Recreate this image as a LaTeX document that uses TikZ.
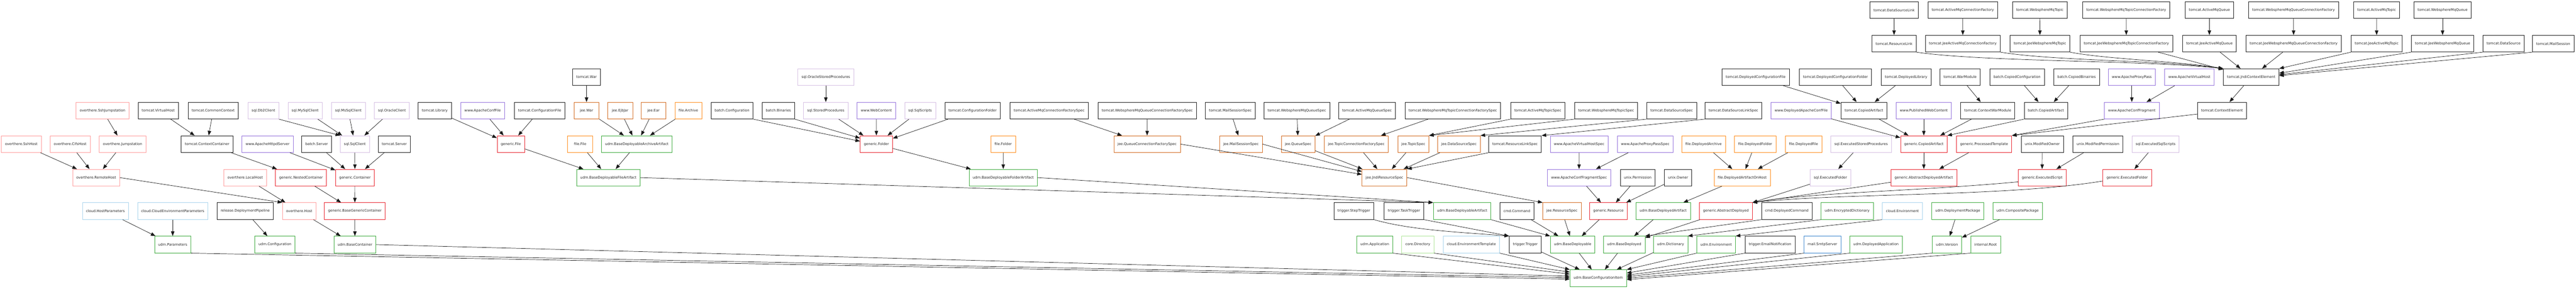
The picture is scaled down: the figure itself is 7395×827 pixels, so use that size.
\documentclass[tikz,border=0pt]{standalone}
\usepackage{fontspec}
\setmainfont{DejaVu Sans}
\usetikzlibrary{arrows.meta}
\definecolor{pkgblack}{HTML}{1A1A1A}
\definecolor{pkgover}{HTML}{FF9C9C}
\definecolor{pkggen}{HTML}{E8202A}
\definecolor{pkgudm}{HTML}{3DAA3D}
\definecolor{pkgcloud}{HTML}{A8D4EC}
\definecolor{pkgsql}{HTML}{D5BFE3}
\definecolor{pkgwww}{HTML}{9370DB}
\definecolor{pkgfile}{HTML}{FF8C1A}
\definecolor{pkgjee}{HTML}{D2691E}
\definecolor{pkgcore}{HTML}{B0E69A}
\definecolor{pkgmail}{HTML}{3A84CC}

\begin{document}
\begin{tikzpicture}[x=0.75pt, y=-0.75pt,
    cls/.style={draw, rectangle, line width=0.8pt, minimum height=36pt, minimum width=54pt,
                inner xsep=7.92pt, inner ysep=0pt, fill=white, text=black!85,
                font=\fontsize{7.55}{9}\selectfont},
    dep/.style={-{Triangle[length=10pt,width=7.5pt]}, line width=0.8pt, black!90}]
    \useasboundingbox (0,0) rectangle (7395,827);

    % Row 0
    \foreach \n/\x/\c/\t in {tcDataSourceLink/5437.3/pkgblack/tomcat.DataSourceLink,
        tcAmqCF/5634.5/pkgblack/tomcat.ActiveMqConnectionFactory,
        tcWmqTopic/5855.8/pkgblack/tomcat.WebsphereMqTopic,
        tcWmqTCF/6103.8/pkgblack/tomcat.WebsphereMqTopicConnectionFactory,
        tcAmqQueue/6342.6/pkgblack/tomcat.ActiveMqQueue,
        tcWmqQCF/6584/pkgblack/tomcat.WebsphereMqQueueConnectionFactory,
        tcAmqTopic/6822.5/pkgblack/tomcat.ActiveMqTopic,
        tcWmqQueue/7011.9/pkgblack/tomcat.WebsphereMqQueue}
        \node[cls, draw=\c] (\n) at (\x,29) {\t};

    % Row 1
    \foreach \n/\x/\c/\t in {tcResourceLink/5437.3/pkgblack/tomcat.ResourceLink,
        tcJeeAmqCF/5634.7/pkgblack/tomcat.JeeActiveMqConnectionFactory,
        tcJeeWmqTopic/5856/pkgblack/tomcat.JeeWebsphereMqTopic,
        tcJeeWmqTCF/6104/pkgblack/tomcat.JeeWebsphereMqTopicConnectionFactory,
        tcJeeAmqQueue/6342.4/pkgblack/tomcat.JeeActiveMqQueue,
        tcJeeWmqQCF/6584.3/pkgblack/tomcat.JeeWebsphereMqQueueConnectionFactory,
        tcJeeAmqTopic/6822.7/pkgblack/tomcat.JeeActiveMqTopic,
        tcJeeWmqQueue/7011.9/pkgblack/tomcat.JeeWebsphereMqQueue,
        tcDataSource/7186.8/pkgblack/tomcat.DataSource,
        tcMailSession/7329.5/pkgblack/tomcat.MailSession}
        \node[cls, draw=\c] (\n) at (\x,125) {\t};

    % Row 2
    \foreach \n/\x/\c/\t in {tcWar/1683.8/pkgblack/tomcat.War,
        sqlOracleSP/2370.7/pkgsql/sql.OracleStoredProcedures,
        tcDeplConfFile/5039.9/pkgblack/tomcat.DeployedConfigurationFile,
        tcDeplConfFolder/5269.1/pkgblack/tomcat.DeployedConfigurationFolder,
        tcDeplLibrary/5471.9/pkgblack/tomcat.DeployedLibrary,
        tcWarModule/5626.8/pkgblack/tomcat.WarModule,
        btCopiedConf/5790.5/pkgblack/batch.CopiedConfiguration,
        btCopiedBin/5961.3/pkgblack/batch.CopiedBinairies,
        wwwProxyPass/6119.8/pkgwww/www.ApacheProxyPass,
        wwwVirtualHost/6285/pkgwww/www.ApacheVirtualHost,
        tcJndiCtx/6462.6/pkgblack/tomcat.JndiContextElement}
        \node[cls, draw=\c] (\n) at (\x,221) {\t};

    % Row 3
    \foreach \n/\x/\c/\t in {ohSshJump/294.4/pkgover/overthere.SshJumpstation,
        tcVirtualHost/454.3/pkgblack/tomcat.VirtualHost,
        tcCommonCtx/612/pkgblack/tomcat.CommonContext,
        sqlDb2/756.1/pkgsql/sql.Db2Client,
        sqlMySql/875.9/pkgsql/sql.MySqlClient,
        sqlMsSql/999.9/pkgsql/sql.MsSqlClient,
        sqlOracle/1125.2/pkgsql/sql.OracleClient,
        tcLibrary/1248/pkgblack/tomcat.Library,
        wwwConfFile/1385.5/pkgwww/www.ApacheConfFile,
        tcConfFile/1549.2/pkgblack/tomcat.ConfigurationFile,
        jeeWar/1683.8/pkgjee/jee.War,
        jeeEjbJar/1780.1/pkgjee/jee.EjbJar,
        jeeEar/1875.9/pkgjee/jee.Ear,
        flArchive/1976.1/pkgfile/file.Archive,
        btConf/2101.4/pkgblack/batch.Configuration,
        btBin/2234.5/pkgblack/batch.Binaries,
        sqlSP/2370.7/pkgsql/sql.StoredProcedures,
        wwwWebContent/2515.7/pkgwww/www.WebContent,
        sqlScripts/2641.3/pkgsql/sql.SqlScripts,
        tcConfFolder/2791.9/pkgblack/tomcat.ConfigurationFolder,
        tcAmqCFSpec/3011.7/pkgblack/tomcat.ActiveMqConnectionFactorySpec,
        tcWmqQCFSpec/3293.4/pkgblack/tomcat.WebsphereMqQueueConnectionFactorySpec,
        tcMailSpec/3532/pkgblack/tomcat.MailSessionSpec,
        tcWmqQueueSpec/3722.7/pkgblack/tomcat.WebsphereMqQueueSpec,
        tcAmqQueueSpec/3924.1/pkgblack/tomcat.ActiveMqQueueSpec,
        tcWmqTCFSpec/4170.6/pkgblack/tomcat.WebsphereMqTopicConnectionFactorySpec,
        tcAmqTopicSpec/4414.5/pkgblack/tomcat.ActiveMqTopicSpec,
        tcWmqTopicSpec/4610.8/pkgblack/tomcat.WebsphereMqTopicSpec,
        tcDataSourceSpec/4798.7/pkgblack/tomcat.DataSourceSpec,
        tcDSLinkSpec/4976.1/pkgblack/tomcat.DataSourceLinkSpec,
        wwwDeplConfFile/5170.6/pkgwww/www.DeployedApacheConfFile,
        tcCopied/5350.7/pkgblack/tomcat.CopiedArtifact,
        wwwPublished/5522.7/pkgwww/www.PublishedWebContent,
        tcCtxWarModule/5706.3/pkgblack/tomcat.ContextWarModule,
        btCopied/5873.1/pkgblack/batch.CopiedArtifact,
        wwwConfFragment/6119.8/pkgwww/www.ApacheConfFragment,
        tcCtxElement/6378.8/pkgblack/tomcat.ContextElement}
        \node[cls, draw=\c] (\n) at (\x,317) {\t};

    % Row 4
    \foreach \n/\x/\c/\t in {ohSshHost/61.1/pkgover/overthere.SshHost,
        ohCifsHost/201.3/pkgover/overthere.CifsHost,
        ohJump/351.9/pkgover/overthere.Jumpstation,
        tcCtxContainer/594.6/pkgblack/tomcat.ContextContainer,
        wwwHttpd/768/pkgwww/www.ApacheHttpdServer,
        btServer/909.1/pkgblack/batch.Server,
        sqlClient/1018.7/pkgsql/sql.SqlClient,
        tcServer/1131.9/pkgblack/tomcat.Server,
        gnFile/1466.5/pkggen/generic.File,
        flFile/1665.4/pkgfile/file.File,
        udmBDArchive/1828/pkgudm/udm.BaseDeployableArchiveArtifact,
        gnFolder/2515.9/pkggen/generic.Folder,
        flFolder/2879.9/pkgfile/file.Folder,
        jeeQCFSpec/3293/pkgjee/jee.QueueConnectionFactorySpec,
        jeeMailSpec/3562.5/pkgjee/jee.MailSessionSpec,
        jeeQueueSpec/3726.6/pkgjee/jee.QueueSpec,
        jeeTCFSpec/3893.5/pkgjee/jee.TopicConnectionFactorySpec,
        jeeTopicSpec/4057.2/pkgjee/jee.TopicSpec,
        jeeDSSpec/4188.1/pkgjee/jee.DataSourceSpec,
        tcRLSpec/4349.3/pkgblack/tomcat.ResourceLinkSpec,
        wwwVHSpec/4533.1/pkgwww/www.ApacheVirtualHostSpec,
        wwwPPSpec/4722.9/pkgwww/www.ApacheProxyPassSpec,
        flDeplArchive/4890.5/pkgfile/file.DeployedArchive,
        flDeplFolder/5038.6/pkgfile/file.DeployedFolder,
        flDeplFile/5177.4/pkgfile/file.DeployedFile,
        sqlExecSP/5342.6/pkgsql/sql.ExecutedStoredProcedures,
        gnCopied/5522.7/pkggen/generic.CopiedArtifact,
        gnTemplate/5695.8/pkggen/generic.ProcessedTemplate,
        uxModOwner/5862.7/pkgblack/unix.ModifiedOwner,
        uxModPerm/6022.6/pkgblack/unix.ModifiedPermission,
        sqlExecScripts/6188/pkgsql/sql.ExecutedSqlScripts}
        \node[cls, draw=\c] (\n) at (\x,413) {\t};

    % Row 5
    \foreach \n/\x/\c/\t in {ohRemoteHost/276/pkgover/overthere.RemoteHost,
        ohLocalHost/703.9/pkgover/overthere.LocalHost,
        gnNested/864/pkggen/generic.NestedContainer,
        gnContainer/1018.9/pkggen/generic.Container,
        udmBDFile/1746.5/pkgudm/udm.BaseDeployableFileArtifact,
        udmBDFolder/2880.1/pkgudm/udm.BaseDeployableFolderArtifact,
        jeeJndiSpec/3974.5/pkgjee/jee.JndiResourceSpec,
        wwwFragSpec/4533/pkgwww/www.ApacheConfFragmentSpec,
        uxPermission/4701.4/pkgblack/unix.Permission,
        uxOwner/4817.4/pkgblack/unix.Owner,
        flOnHost/5001.2/pkgfile/file.DeployedArtifactOnHost,
        sqlExecFolder/5254.7/pkgsql/sql.ExecutedFolder,
        gnAbsDeplArt/5522.7/pkggen/generic.AbstractDeployedArtifact,
        gnExecScript/5862.3/pkggen/generic.ExecutedScript,
        gnExecFolder/6106.6/pkggen/generic.ExecutedFolder}
        \node[cls, draw=\c] (\n) at (\x,509) {\t};

    % Row 6
    \foreach \n/\x/\c/\t in {clHostParams/302.5/pkgcloud/cloud.HostParameters,
        clEnvParams/495.8/pkgcloud/cloud.CloudEnvironmentParameters,
        relPipeline/703.9/pkgblack/release.DeploymentPipeline,
        ohHost/858.9/pkgover/overthere.Host,
        gnBaseContainer/1018.7/pkggen/generic.BaseGenericContainer,
        trStep/3886.6/pkgblack/trigger.StepTrigger,
        trTask/4030.7/pkgblack/trigger.TaskTrigger,
        udmBDArtifact/4197.3/pkgudm/udm.BaseDeployableArtifact,
        cmdCommand/4354.4/pkgblack/cmd.Command,
        jeeResSpec/4483.9/pkgjee/jee.ResourceSpec,
        gnResource/4617.2/pkggen/generic.Resource,
        udmBDdArtifact/4774.5/pkgudm/udm.BaseDeployedArtifact,
        gnAbsDeployed/4954.4/pkggen/generic.AbstractDeployed,
        cmdDeployed/5129.3/pkgblack/cmd.DeployedCommand,
        udmEncDict/5302.7/pkgudm/udm.EncryptedDictionary,
        clEnvironment/5461.2/pkgcloud/cloud.Environment,
        udmDeplPkg/5620.1/pkgudm/udm.DeploymentPackage,
        udmCompPkg/5791.9/pkgudm/udm.CompositePackage}
        \node[cls, draw=\c] (\n) at (\x,605) {\t};

    % Row 7
    \foreach \n/\x/\c/\t in {udmParams/495.8/pkgudm/udm.Parameters,
        udmConfig/789.3/pkgudm/udm.Configuration,
        udmBaseContainer/1018.9/pkgudm/udm.BaseContainer,
        udmApplication/3946.5/pkgudm/udm.Application,
        coreDirectory/4070.2/pkgcore/core.Directory,
        clEnvTemplate/4224/pkgcloud/cloud.EnvironmentTemplate,
        trTrigger/4378.7/pkgblack/trigger.Trigger,
        udmBaseDeployable/4514.6/pkgudm/udm.BaseDeployable,
        udmBaseDeployed/4662.6/pkgudm/udm.BaseDeployed,
        udmDictionary/4795.7/pkgudm/udm.Dictionary,
        udmEnvironment/4926.5/pkgudm/udm.Environment,
        trEmail/5081.1/pkgblack/trigger.EmailNotification,
        mailSmtp/5231.9/pkgmail/mail.SmtpServer,
        udmDeplApp/5385.5/pkgudm/udm.DeployedApplication,
        udmVersion/5589.4/pkgudm/udm.Version,
        intRoot/5700/pkgudm/internal.Root}
        \node[cls, draw=\c] (\n) at (\x,701) {\t};

    % Root of everything
    \node[cls, draw=pkgudm] (udmBCI) at (4588.1,797) {udm.BaseConfigurationItem};

    % Plain inheritance edges
    \foreach \a/\b in {ohSshJump/ohJump, ohSshHost/ohRemoteHost, ohCifsHost/ohRemoteHost,
        ohJump/ohRemoteHost, ohLocalHost/ohHost, ohHost/udmBaseContainer,
        tcVirtualHost/tcCtxContainer, tcCommonCtx/tcCtxContainer, tcCtxContainer/gnNested,
        sqlMySql/sqlClient, sqlMsSql/sqlClient, sqlOracle/sqlClient,
        wwwHttpd/gnContainer, btServer/gnContainer, sqlClient/gnContainer, tcServer/gnContainer,
        gnNested/gnBaseContainer, gnContainer/gnBaseContainer, gnBaseContainer/udmBaseContainer,
        relPipeline/udmConfig, clHostParams/udmParams, clEnvParams/udmParams,
        tcLibrary/gnFile, wwwConfFile/gnFile, tcConfFile/gnFile, tcWar/jeeWar,
        jeeWar/udmBDArchive, jeeEjbJar/udmBDArchive, jeeEar/udmBDArchive, flArchive/udmBDArchive,
        gnFile/udmBDFile, flFile/udmBDFile, udmBDArchive/udmBDFile,
        sqlOracleSP/sqlSP, sqlSP/gnFolder, wwwWebContent/gnFolder, sqlScripts/gnFolder,
        tcConfFolder/gnFolder, gnFolder/udmBDFolder, flFolder/udmBDFolder,
        tcAmqCFSpec/jeeQCFSpec, tcWmqQCFSpec/jeeQCFSpec, tcMailSpec/jeeMailSpec,
        tcWmqQueueSpec/jeeQueueSpec, tcAmqQueueSpec/jeeQueueSpec, tcWmqTCFSpec/jeeTCFSpec,
        jeeQueueSpec/jeeJndiSpec, jeeTCFSpec/jeeJndiSpec, jeeTopicSpec/jeeJndiSpec, jeeDSSpec/jeeJndiSpec,
        wwwVHSpec/wwwFragSpec, wwwPPSpec/wwwFragSpec, wwwFragSpec/gnResource,
        uxPermission/gnResource, uxOwner/gnResource,
        cmdCommand/udmBaseDeployable, jeeResSpec/udmBaseDeployable, gnResource/udmBaseDeployable,
        udmBDdArtifact/udmBaseDeployed, gnAbsDeployed/udmBaseDeployed,
        trTrigger/udmBCI, udmBaseDeployable/udmBCI, udmBaseDeployed/udmBCI, udmDictionary/udmBCI,
        tcDataSourceLink/tcResourceLink, tcDeplConfFile/tcCopied, tcDeplConfFolder/tcCopied,
        tcDeplLibrary/tcCopied, wwwDeplConfFile/gnCopied, tcCopied/gnCopied, wwwPublished/gnCopied,
        tcCtxWarModule/gnCopied, flDeplArchive/flOnHost, flDeplFolder/flOnHost, flDeplFile/flOnHost,
        flOnHost/udmBDdArtifact, sqlExecSP/sqlExecFolder, sqlExecFolder/gnAbsDeployed,
        tcAmqCF/tcJeeAmqCF, tcWmqTopic/tcJeeWmqTopic, tcWmqTCF/tcJeeWmqTCF, tcAmqQueue/tcJeeAmqQueue,
        tcWmqQCF/tcJeeWmqQCF, tcAmqTopic/tcJeeAmqTopic, tcWmqQueue/tcJeeWmqQueue,
        tcJeeWmqTCF/tcJndiCtx, tcJeeAmqQueue/tcJndiCtx, tcJeeWmqQCF/tcJndiCtx, tcJndiCtx/tcCtxElement,
        wwwProxyPass/wwwConfFragment, wwwVirtualHost/wwwConfFragment, tcWarModule/tcCtxWarModule,
        btCopiedConf/btCopied, btCopiedBin/btCopied, gnCopied/gnAbsDeplArt, gnTemplate/gnAbsDeplArt,
        uxModOwner/gnExecScript, uxModPerm/gnExecScript, sqlExecScripts/gnExecFolder,
        udmDeplPkg/udmVersion, udmCompPkg/udmVersion}
        \draw[dep] (\a) -- (\b);

    % Edges that need their own anchors
    \draw[dep] (ohRemoteHost.east) -- (ohHost.north west);
    \draw[dep] (sqlDb2.south east) -- (sqlClient.north west);
    \draw[dep] (btConf.south east) -- (gnFolder.170);
    \draw[dep] (btBin.south east) -- (gnFolder.160);
    \draw[dep] (udmBDFile.east) -- (udmBDArtifact.north west);
    \draw[dep] (udmBDFolder.east) -- (udmBDArtifact.north west);
    \draw[dep] (jeeQCFSpec.east) -- (jeeJndiSpec.172);
    \draw[dep] (jeeMailSpec.east) -- (jeeJndiSpec.165);
    \draw[dep] (tcAmqTopicSpec.south west) -- (jeeTopicSpec.north east);
    \draw[dep] (tcWmqTopicSpec.south west) -- (jeeTopicSpec.north east);
    \draw[dep] (tcDataSourceSpec.south west) -- (jeeDSSpec.north east);
    \draw[dep] (tcDSLinkSpec.south west) -- (tcRLSpec.north east);
    \draw[dep] (tcRLSpec.south west) -- (jeeJndiSpec.north east);
    \draw[dep] (jeeJndiSpec.east) -- (jeeResSpec.north west);
    \draw[dep] (udmBDArtifact.south east) -- (udmBaseDeployable.north west);
    \draw[dep] (trStep.south east) .. controls (4050,660) and (4200,666) .. (trTrigger.north west);
    \draw[dep] (trTask.south east) -- (trTrigger.north west);
    \draw[dep] (cmdDeployed.south west) -- (udmBaseDeployed.north east);
    \draw[dep] (udmEncDict.south west) -- (udmDictionary.north east);
    \draw[dep] (clEnvironment.south west) -- (udmEnvironment.north east);
    \draw[dep] (gnAbsDeplArt.188) -- (gnAbsDeployed.north east);
    \draw[dep] (gnExecScript.190) .. controls (5500,548) and (5200,552) .. (gnAbsDeployed.north east);
    \draw[dep] (gnExecFolder.188) .. controls (5750,565) and (5300,552) .. (gnAbsDeployed.north east);
    \draw[dep] (btCopied.south west) -- (gnCopied.north east);
    \draw[dep] (tcCtxElement.188) -- (gnTemplate.north east);
    \draw[dep] (wwwConfFragment.south west) -- (gnTemplate.north east);

    % Into tomcat.JndiContextElement
    \draw[dep] (tcResourceLink.south east) .. controls (5700,178) and (6150,172) .. (tcJndiCtx.north west);
    \draw[dep] (tcJeeAmqCF.south east) .. controls (5900,175) and (6200,172) .. (tcJndiCtx.north west);
    \draw[dep] (tcJeeWmqTopic.south east) .. controls (6050,170) and (6250,175) .. (tcJndiCtx.north west);
    \draw[dep] (tcJeeAmqTopic.south west) -- (tcJndiCtx.north east);
    \draw[dep] (tcJeeWmqQueue.south west) -- (tcJndiCtx.8);
    \draw[dep] (tcDataSource.south west) -- (tcJndiCtx.5);
    \draw[dep] (tcMailSession.south west) -- (tcJndiCtx.3);

    % Into udm.BaseConfigurationItem
    \draw[dep] (udmParams.south east) -- (udmBCI.182);
    \draw[dep] (udmConfig.south east) -- (udmBCI.179);
    \draw[dep] (udmBaseContainer.east) -- (udmBCI.176);
    \draw[dep] (udmApplication.south east) -- (udmBCI.172);
    \draw[dep] (coreDirectory.south east) -- (udmBCI.168);
    \draw[dep] (clEnvTemplate.south east) -- (udmBCI.north west);
    \draw[dep] (udmEnvironment.south west) -- (udmBCI.north east);
    \draw[dep] (trEmail.south west) -- (udmBCI.10);
    \draw[dep] (mailSmtp.south west) -- (udmBCI.6);
    \draw[dep] (udmDeplApp.south west) -- (udmBCI.3);
    \draw[dep] (udmVersion.south west) -- (udmBCI.0);
    \draw[dep] (intRoot.south west) -- (udmBCI.357);
\end{tikzpicture}
\end{document}
